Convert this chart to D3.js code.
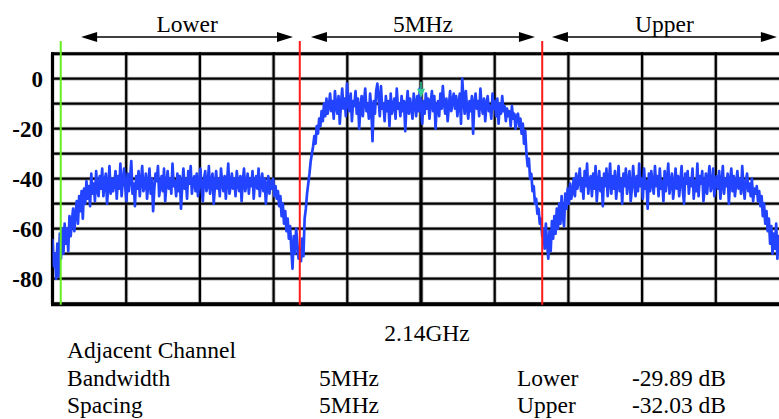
<!DOCTYPE html>
<html><head><meta charset="utf-8">
<script src="https://cdn.jsdelivr.net/npm/d3@7"></script>
<style>body{margin:0;background:#fff}svg{display:block}</style>
</head><body><svg id="c" width="779" height="419"></svg>
<script>
// ---- data ----
const yTickLabels = [0, -20, -40, -60, -80];
const yGridLevels = [10, 0, -10, -20, -30, -40, -50, -60, -70, -80, -90];
const xGridOffsets = [-7.6, -6.08, -4.56, -3.04, -1.52, 0, 1.52, 3.04, 4.56, 6.08, 7.6]; // MHz from 2.14 GHz
const sweepStart = -7.6;   // MHz offset of first sample
const sweepStep = 0.025;   // MHz between samples
const levelDb = [
  -64,-75,-70,-80,-66,-79,-62,-72,-60,
  -70,-58,-66,-60,-69,-55,-63,-57,-52,-61,
  -54,-49,-58,-47,-53,-45,-56,-44,-50,-41,
  -48,-43,-51,-38,-46,-42,-49,-37,-45,-47,
  -39,-44,-36,-47,-41,-38,-50,-43,-35,-46,
  -40,-45,-42,-37,-48,-39,-44,-34,-47,-41,
  -36,-43,-49,-38,-45,-40,-33,-46,-42,-51,
  -39,-44,-37,-47,-41,-35,-45,-43,-38,-48,
  -42,-36,-46,-40,-53,-44,-38,-41,-35,-47,
  -43,-39,-45,-36,-49,-42,-37,-44,-40,-46,
  -34,-43,-41,-47,-38,-45,-39,-52,-43,-36,
  -44,-40,-48,-37,-42,-35,-46,-41,-39,-45,
  -38,-47,-42,-36,-44,-49,-40,-37,-45,-43,
  -35,-46,-41,-38,-50,-43,-37,-44,-40,-47,
  -36,-42,-45,-39,-48,-41,-34,-46,-43,-38,
  -44,-40,-47,-37,-42,-45,-39,-49,-41,-36,
  -45,-42,-38,-46,-40,-43,-37,-48,-41,-39,
  -44,-36,-47,-42,-38,-45,-40,-50,-43,-39,
  -46,-41,-44,-40,-47,
  -43,-48,-45,-51,-47,-55,-50,-58,-53,-61,
  -56,-64,-59,-68,-76,-63,-70,-60,-66,-72,
  -68,-73,-64,-71,-56,-52,-46,-42,-38,-33,
  -30,-27,-23,-26,-19,-22,-16,-19,-13,-17,
  -10,-15,-8,-14,-11,
  -6,-13,-9,-16,-5,-11,-14,-7,-18,-10,
  -4,-12,-8,-15,-2,-10,-13,-6,-17,-9,
  -11,-5,-14,-8,-20,-12,-7,-15,-9,-4,
  -13,-10,-16,-6,-12,-25,-9,-14,-5,-2,
  -8,-15,-3,-12,-10,-17,-7,-13,-9,-19,
  -6,-14,-11,-8,-16,-4,-12,-10,-15,-7,
  -13,-9,-21,-11,-5,-14,-8,-12,-16,-6,
  -10,-15,-7,-13,-4,-11,-18,-9,-14,-6,
  -12,-8,-16,-10,-5,-13,-7,-20,-11,-9,
  -15,-6,-12,-3,-10,-14,-8,-17,-11,-5,
  -13,-9,-6,-12,-7,-15,-10,-6,-18,0,
  -8,-14,-5,-12,-16,-9,-13,-7,-22,-10,
  -6,-12,-9,-15,-4,-11,-14,-8,-17,-10,
  -7,-13,-11,-16,-6,-12,-9,-15,-8,-18,
  -10,-14,-7,-13,-11,-17,-12,-15,-13,-19,
  -11,-16,-14,-20,-15,
  -14,-19,-16,-22,-18,-26,-21,-30,-35,-32,
  -40,-38,-45,-43,-50,-48,-54,-52,-58,-56,
  -63,-60,
  -68,-58,-66,-72,-61,-69,-57,-64,-55,-62,
  -52,-60,-50,-58,-47,-55,-59,-46,-52,-44,
  -50,-42,-48,-45,-40,-47,-38,-44,-41,
  -36,-45,-40,-48,-37,-43,-34,-46,-41,-39,
  -47,-38,-44,-35,-49,-42,-37,-45,-40,-51,
  -38,-43,-36,-47,-41,-34,-46,-39,-44,-37,
  -48,-42,-35,-45,-40,-50,-38,-43,-36,-46,
  -41,-37,-49,-44,-35,-42,-47,-39,-45,-34,
  -43,-40,-48,-36,-44,-41,-52,-38,-45,-37,
  -42,-46,-35,-43,-39,-47,-36,-44,-41,-49,
  -37,-45,-40,-34,-46,-42,-38,-48,-43,-36,
  -44,-39,-47,-41,-35,-45,-50,-38,-42,-37,
  -46,-40,-43,-36,-48,-41,-45,-34,-47,-39,
  -42,-37,-49,-44,-38,-46,-40,-35,-45,-43,
  -36,-47,-41,-39,-44,-37,-48,-42,-35,-46,
  -40,-43,-38,-50,-41,-36,-45,-39,-47,-42,
  -37,-44,-40,-46,-35,-43,-48,-41,-38,-45,
  -42,-47,-40,-49,-44,
  -46,-43,-49,-45,-51,-47,-55,-50,-58,-53,
  -61,-56,-66,-59,-70,-62,-68,-58,-72,-63,
  -67,-60,-71,-64,-66,-62,-69,-65,-63
];
const channelNames = ["Lower", "5MHz", "Upper"];
const channelFrom = [-7.01, -2.27, 2.70];
const channelTo = [-2.64, 2.35, 7.34];
const channelEdges = [-2.5, 2.5];
const referenceLine = -7.43;
const markerFreq = 0.0;
const markerLevel = -4;
const centerLabel = "2.14GHz";
const infoRows = [
  ["Adjacent Channel", "", "", ""],
  ["Bandwidth", "5MHz", "Lower", "-29.89 dB"],
  ["Spacing", "5MHz", "Upper", "-32.03 dB"]
];

// ---- drawing ----
const FONT = '"Liberation Serif"';
const svg = d3.select("#c");
const x = d3.scaleLinear().domain([-7.6, 7.6]).range([52.5, 789.5]);
const y = d3.scaleLinear().domain([-90, 10]).range([303.7, 53.7]);

const g = svg.append("g");
yGridLevels.forEach(v => {
  g.append("line").attr("x1", x(-7.6)).attr("x2", 779).attr("y1", y(v)).attr("y2", y(v))
    .attr("stroke", "#c4c4c4").attr("stroke-width", 4);
});
xGridOffsets.forEach(v => {
  g.append("line").attr("x1", x(v)).attr("x2", x(v)).attr("y1", y(10)).attr("y2", y(-90))
    .attr("stroke", "#c4c4c4").attr("stroke-width", v === 0 ? 5 : 4);
});
yGridLevels.forEach(v => {
  const w = v === 10 ? 3 : (v === -90 ? 4 : 2.2);
  const yy = y(v) + (v === -90 ? 0.5 : 0);
  g.append("line").attr("x1", x(-7.6) - 1.5).attr("x2", 779).attr("y1", yy).attr("y2", yy)
    .attr("stroke", "#000").attr("stroke-width", w);
});
xGridOffsets.forEach(v => {
  const w = v === -7.6 ? 3 : (v === 0 ? 3.2 : 2.2);
  g.append("line").attr("x1", x(v)).attr("x2", x(v)).attr("y1", y(10) - 1.5).attr("y2", y(-90) + 2)
    .attr("stroke", "#000").attr("stroke-width", w);
});

// y tick labels
svg.append("g").selectAll("text").data(yTickLabels).join("text")
  .attr("x", 43).attr("y", d => y(d)).attr("dy", "0.35em")
  .attr("text-anchor", "end").style("font-family", FONT).style("font-weight", "bold")
  .attr("font-size", 23).text(d => d);

// trace
svg.append("defs").append("clipPath").attr("id", "pc").append("rect")
  .attr("x", x(-7.6)).attr("y", y(10)).attr("width", x(7.6) - x(-7.6)).attr("height", y(-90) - y(10));
const line = d3.line().x((d, i) => x(sweepStart + i * sweepStep)).y(d => y(d));
svg.append("path").datum(levelDb).attr("d", line).attr("clip-path", "url(#pc)")
  .attr("fill", "none").attr("stroke", "#2243ff").attr("stroke-width", 2.7).attr("stroke-linejoin", "round");

// channel edge lines and reference line
channelEdges.forEach(v => {
  svg.append("line").attr("x1", x(v)).attr("x2", x(v)).attr("y1", 41).attr("y2", y(-90) + 1)
    .attr("stroke", "#ff1a1a").attr("stroke-width", 2);
});
svg.append("line").attr("x1", x(referenceLine)).attr("x2", x(referenceLine)).attr("y1", 41).attr("y2", y(-90) + 1)
  .attr("stroke", "#66ee22").attr("stroke-width", 2);

// marker
const mx = x(markerFreq), my = y(markerLevel);
svg.append("line").attr("x1", mx).attr("x2", mx).attr("y1", my - 7).attr("y2", my).attr("stroke", "#33cc99").attr("stroke-width", 1.5);
svg.append("path").attr("d", `M${mx - 4},${my} L${mx + 4},${my} L${mx},${my + 9} Z`).attr("fill", "#33cc99");

// channel arrows & labels
const ay = 37;
channelNames.forEach((name, i) => {
  const a = x(channelFrom[i]), b = x(channelTo[i]);
  svg.append("line").attr("x1", a + 8).attr("x2", b - 8).attr("y1", ay).attr("y2", ay)
    .attr("stroke", "#000").attr("stroke-width", 1.5);
  svg.append("path").attr("d", `M${a},${ay} L${a + 16},${ay - 5} L${a + 16},${ay + 5} Z`).attr("fill", "#000");
  svg.append("path").attr("d", `M${b},${ay} L${b - 16},${ay - 5} L${b - 16},${ay + 5} Z`).attr("fill", "#000");
  svg.append("text").attr("x", (a + b) / 2).attr("y", 32).attr("text-anchor", "middle")
    .style("font-family", FONT).attr("font-size", 23.5).text(name);
});

// bottom texts
svg.append("text").attr("x", 427).attr("y", 341).attr("text-anchor", "middle")
  .style("font-family", FONT).attr("font-size", 23.5).text(centerLabel);
const rowY = [358, 386, 413];
const colX = [67, 319, 517, 632];
infoRows.forEach((row, r) => {
  row.forEach((t, c) => {
    if (!t) return;
    svg.append("text").attr("x", colX[c]).attr("y", rowY[r])
      .style("font-family", FONT).attr("font-size", 23.5).text(t);
  });
});
</script></body></html>
